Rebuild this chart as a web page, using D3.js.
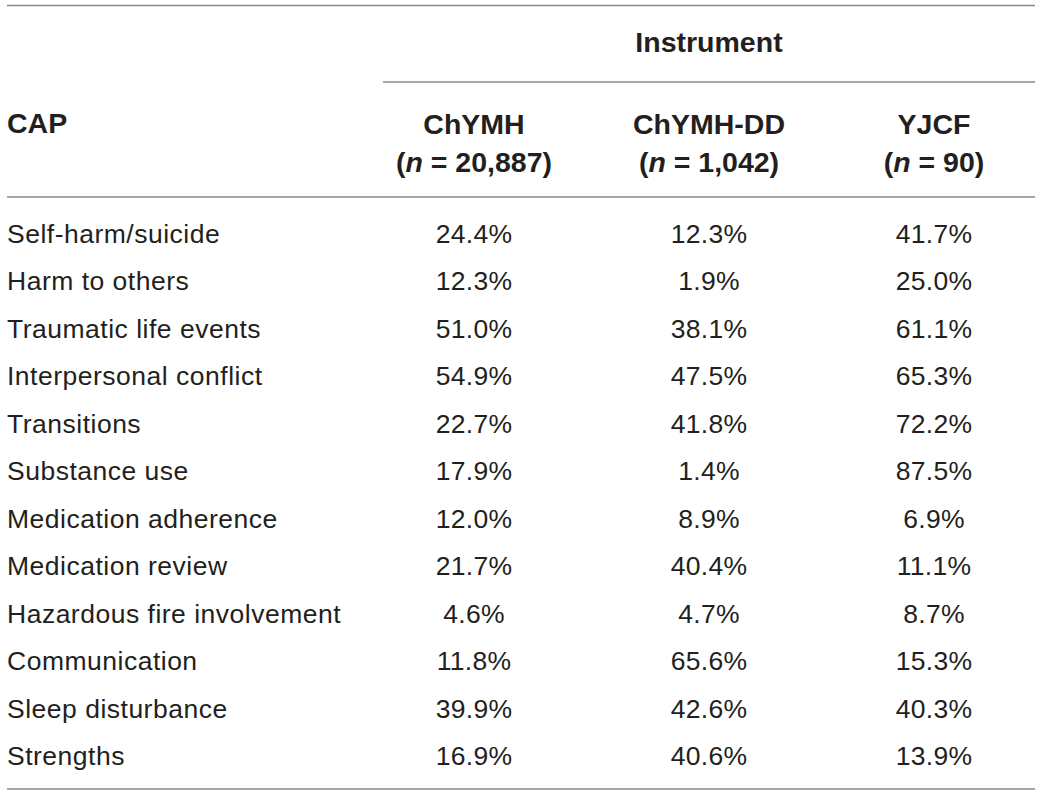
<!DOCTYPE html>
<html>
<head>
<meta charset="utf-8">
<script src="https://cdn.jsdelivr.net/npm/d3@7"></script>
<style>
  html, body { margin: 0; padding: 0; background: #fff; }
  svg { display: block; }
</style>
</head>
<body>
<svg id="chart" width="1040" height="795"></svg>
<script>
// ---- data ----
const categories = [
  "Self-harm/suicide", "Harm to others", "Traumatic life events",
  "Interpersonal conflict", "Transitions", "Substance use",
  "Medication adherence", "Medication review", "Hazardous fire involvement",
  "Communication", "Sleep disturbance", "Strengths"
];
const instruments = ["ChYMH", "ChYMH-DD", "YJCF"];
const sampleSizes = ["20,887", "1,042", "90"];
const chymh   = [24.4, 12.3, 51.0, 54.9, 22.7, 17.9, 12.0, 21.7, 4.6, 11.8, 39.9, 16.9];
const chymhDD = [12.3, 1.9, 38.1, 47.5, 41.8, 1.4, 8.9, 40.4, 4.7, 65.6, 42.6, 40.6];
const yjcf    = [41.7, 25.0, 61.1, 65.3, 72.2, 87.5, 6.9, 11.1, 8.7, 15.3, 40.3, 13.9];
const rowHeader = "CAP";
const groupHeader = "Instrument";

// ---- layout ----
const svg = d3.select("#chart");
const textColor = "#231f20";
const lineColor = "#8a8a8a";
const fontFam = "'Liberation Sans', Arial, Helvetica, sans-serif";

const y = d3.scalePoint().domain(categories).range([243, 765]);
const x = d3.scaleOrdinal().domain(instruments).range([474, 709, 934]);
const seriesByInstrument = { "ChYMH": chymh, "ChYMH-DD": chymhDD, "YJCF": yjcf };
const fmt = d3.format(".1f");

// rules
const rules = [
  { x1: 7, x2: 1035, y: 5.5 },
  { x1: 383, x2: 1035, y: 82 },
  { x1: 7, x2: 1035, y: 197 },
  { x1: 7, x2: 1035, y: 789 }
];
svg.selectAll("line.rule").data(rules).join("line")
  .attr("class", "rule")
  .attr("x1", d => d.x1).attr("x2", d => d.x2)
  .attr("y1", d => d.y).attr("y2", d => d.y)
  .attr("stroke", lineColor).attr("stroke-width", 1.6);

// headers
svg.append("text")
  .attr("x", 709).attr("y", 52)
  .attr("text-anchor", "middle")
  .attr("font-family", fontFam).attr("font-weight", "bold").attr("font-size", 28.5)
  .attr("fill", textColor)
  .text(groupHeader);

svg.append("text")
  .attr("x", 7).attr("y", 133)
  .attr("font-family", fontFam).attr("font-weight", "bold").attr("font-size", 28.5)
  .attr("fill", textColor)
  .text(rowHeader);

const hdr = svg.selectAll("g.colhdr").data(instruments).join("g").attr("class", "colhdr");
hdr.append("text")
  .attr("x", d => x(d)).attr("y", 134)
  .attr("text-anchor", "middle")
  .attr("font-family", fontFam).attr("font-weight", "bold").attr("font-size", 28.5)
  .attr("fill", textColor)
  .text(d => d);
const nText = hdr.append("text")
  .attr("x", d => x(d)).attr("y", 172)
  .attr("text-anchor", "middle")
  .attr("font-family", fontFam).attr("font-weight", "bold").attr("font-size", 28.5)
  .attr("fill", textColor);
nText.append("tspan").text("(");
nText.append("tspan").attr("font-style", "italic").text("n");
nText.append("tspan").text((d, i) => " = " + sampleSizes[i] + ")");

// row labels
svg.selectAll("text.rowlabel").data(categories).join("text")
  .attr("class", "rowlabel")
  .attr("x", 7).attr("y", d => y(d))
  .attr("font-family", fontFam).attr("font-size", 26.5)
  .attr("letter-spacing", 0.5)
  .attr("fill", textColor)
  .text(d => d);

// values
instruments.forEach(inst => {
  const vals = seriesByInstrument[inst];
  svg.selectAll(null).data(categories).join("text")
    .attr("x", x(inst)).attr("y", d => y(d))
    .attr("text-anchor", "middle")
    .attr("font-family", fontFam).attr("font-size", 26.5)
    .attr("letter-spacing", 0.3)
    .attr("fill", textColor)
    .text((d, i) => fmt(vals[i]) + "%");
});
</script>
</body>
</html>
